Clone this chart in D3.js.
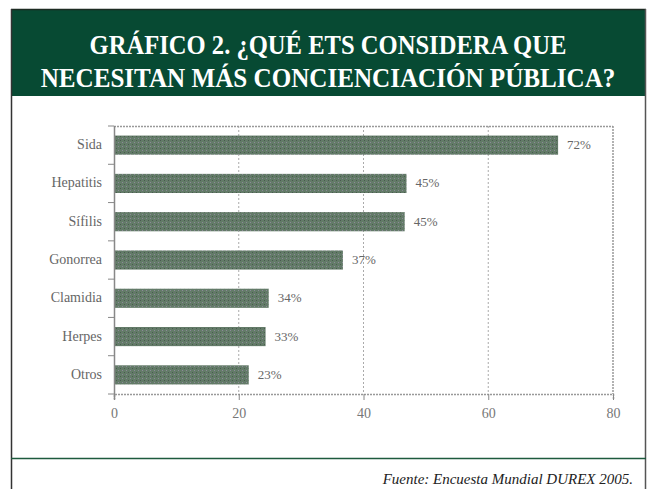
<!DOCTYPE html>
<html>
<head>
<meta charset="utf-8">
<script src="https://cdn.jsdelivr.net/npm/d3@7"></script>
<style>
  body { margin: 0; background: #fff; }
  svg { display: block; }
</style>
</head>
<body>
<div id="chart"></div>
<script>
// data
const categories = ["Sida", "Hepatitis", "Sífilis", "Gonorrea", "Clamidia", "Herpes", "Otros"];
const barValues = [71.2, 46.9, 46.6, 36.7, 24.8, 24.3, 21.6];
const valueLabels = ["72%", "45%", "45%", "37%", "34%", "33%", "23%"];
const xTicks = [0, 20, 40, 60, 80];
const titleLines = ["GRÁFICO 2. ¿QUÉ ETS CONSIDERA QUE", "NECESITAN MÁS CONCIENCIACIÓN PÚBLICA?"];
const source = "Fuente: Encuesta Mundial DUREX 2005.";

const width = 650, height = 489;
const margin = { top: 126, right: 37, bottom: 95, left: 114 };

const svg = d3.select("#chart").append("svg")
    .attr("width", width)
    .attr("height", height);

// dotted fill of the bars
let defs = svg.append("defs");
let pat = defs.append("pattern")
    .attr("id", "dots")
    .attr("width", 4).attr("height", 4)
    .attr("patternUnits", "userSpaceOnUse");
pat.append("rect").attr("width", 4).attr("height", 4).attr("fill", "#637b68");
pat.append("rect").attr("x", 0).attr("y", 0).attr("width", 1).attr("height", 1).attr("fill", "#8c8a98");
pat.append("rect").attr("x", 2).attr("y", 2).attr("width", 1).attr("height", 1).attr("fill", "#4a5a4f");

// frame
svg.append("rect")
    .attr("x", 11).attr("y", 9)
    .attr("width", 635).attr("height", 87)
    .attr("fill", "#074a33");
svg.append("line")
    .attr("x1", 11).attr("x2", 646).attr("y1", 9.5).attr("y2", 9.5)
    .attr("stroke", "#1c2b22").attr("stroke-width", 1.5);
svg.append("line")
    .attr("x1", 11.5).attr("x2", 11.5).attr("y1", 9).attr("y2", height)
    .attr("stroke", "#333").attr("stroke-width", 1.5);
svg.append("line")
    .attr("x1", 645.5).attr("x2", 645.5).attr("y1", 9).attr("y2", height)
    .attr("stroke", "#555").attr("stroke-width", 1.5);
svg.append("line")
    .attr("x1", 11).attr("x2", 646).attr("y1", 458.5).attr("y2", 458.5)
    .attr("stroke", "#1d5a3d").attr("stroke-width", 1.5);

// title lines, squeezed horizontally to the widths seen in the picture
const titleWidths = [477, 575];
svg.selectAll(".title")
    .data(titleLines)
    .enter()
    .append("text")
    .attr("class", "title")
    .attr("text-anchor", "middle")
    .style("font-family", "'Liberation Serif', 'DejaVu Serif', serif")
    .style("font-weight", "bold")
    .style("font-size", "28px")
    .style("fill", "#fff")
    .text(d => d)
    .attr("transform", function(d, i) {
        let w = this.getComputedTextLength();
        let s = Math.min(1, titleWidths[i] / w);
        return `translate(328, ${54 + i * 33}) scale(${s}, 1)`;
    });

const plotW = width - margin.left - margin.right;
const plotH = height - margin.top - margin.bottom;

const x = d3.scaleLinear().domain([0, 80]).range([0, plotW]);
const y = d3.scaleBand().domain(categories).range([0, plotH]).paddingInner(0.5).paddingOuter(0.25);

const g = svg.append("g")
    .attr("transform", `translate(${margin.left}, ${margin.top})`);

// grid lines and dashed frame
g.selectAll(".grid")
    .data(xTicks.slice(1, -1))
    .enter()
    .append("line")
    .attr("x1", d => x(d)).attr("x2", d => x(d))
    .attr("y1", 0).attr("y2", plotH)
    .attr("stroke", "#aaa")
    .attr("stroke-dasharray", "2,2");
g.append("line")
    .attr("x1", 0).attr("x2", plotW).attr("y1", 0.5).attr("y2", 0.5)
    .attr("stroke", "#999").attr("stroke-width", 1.5).attr("stroke-dasharray", "2,1");
g.append("line")
    .attr("x1", plotW).attr("x2", plotW).attr("y1", 0).attr("y2", plotH)
    .attr("stroke", "#999").attr("stroke-width", 1.5).attr("stroke-dasharray", "2,1");

g.selectAll(".bar")
    .data(categories)
    .enter()
    .append("rect")
    .attr("x", 1)
    .attr("y", d => y(d))
    .attr("width", (d, i) => x(barValues[i]) - 1)
    .attr("height", y.bandwidth())
    .attr("fill", "url(#dots)");

g.selectAll(".val")
    .data(categories)
    .enter()
    .append("text")
    .attr("x", (d, i) => x(barValues[i]) + 9)
    .attr("y", d => y(d) + y.bandwidth() / 2 + 4)
    .style("font-family", "'Liberation Serif', serif")
    .style("font-size", "13px")
    .style("fill", "#666")
    .text((d, i) => valueLabels[i]);

// y axis: ticks on band boundaries
let yAxis = g.append("g");
yAxis.append("line")
    .attr("x1", 0.5).attr("x2", 0.5).attr("y1", 0).attr("y2", plotH + 5)
    .attr("stroke", "#888").attr("stroke-width", 1.5);
yAxis.selectAll(".ytick")
    .data(d3.range(categories.length + 1))
    .enter()
    .append("line")
    .attr("x1", -6).attr("x2", 0)
    .attr("y1", i => i * y.step()).attr("y2", i => i * y.step())
    .attr("stroke", "#888");
yAxis.selectAll(".ylab")
    .data(categories)
    .enter()
    .append("text")
    .attr("x", -12)
    .attr("y", d => y(d) + y.bandwidth() / 2 + 4)
    .attr("text-anchor", "end")
    .style("font-family", "'Liberation Serif', serif")
    .style("font-size", "14px")
    .style("fill", "#666")
    .text(d => d);

// x axis
let xAxis = d3.axisBottom(x).tickValues(xTicks).tickSize(6).tickPadding(8);
let xg = g.append("g")
    .attr("transform", `translate(0, ${plotH})`)
    .call(xAxis);
xg.select(".domain")
    .attr("stroke", "#999").attr("stroke-width", 1.5).attr("stroke-dasharray", "2,1");
xg.selectAll(".tick line").attr("stroke", "#888");
xg.selectAll(".tick text")
    .style("font-family", "'Liberation Serif', serif")
    .style("font-size", "14px")
    .style("fill", "#777");

svg.append("text")
    .attr("x", 633)
    .attr("y", 484)
    .attr("text-anchor", "end")
    .style("font-family", "'Liberation Serif', serif")
    .style("font-style", "italic")
    .style("font-size", "15px")
    .style("fill", "#222")
    .text(source);
</script>
</body>
</html>
